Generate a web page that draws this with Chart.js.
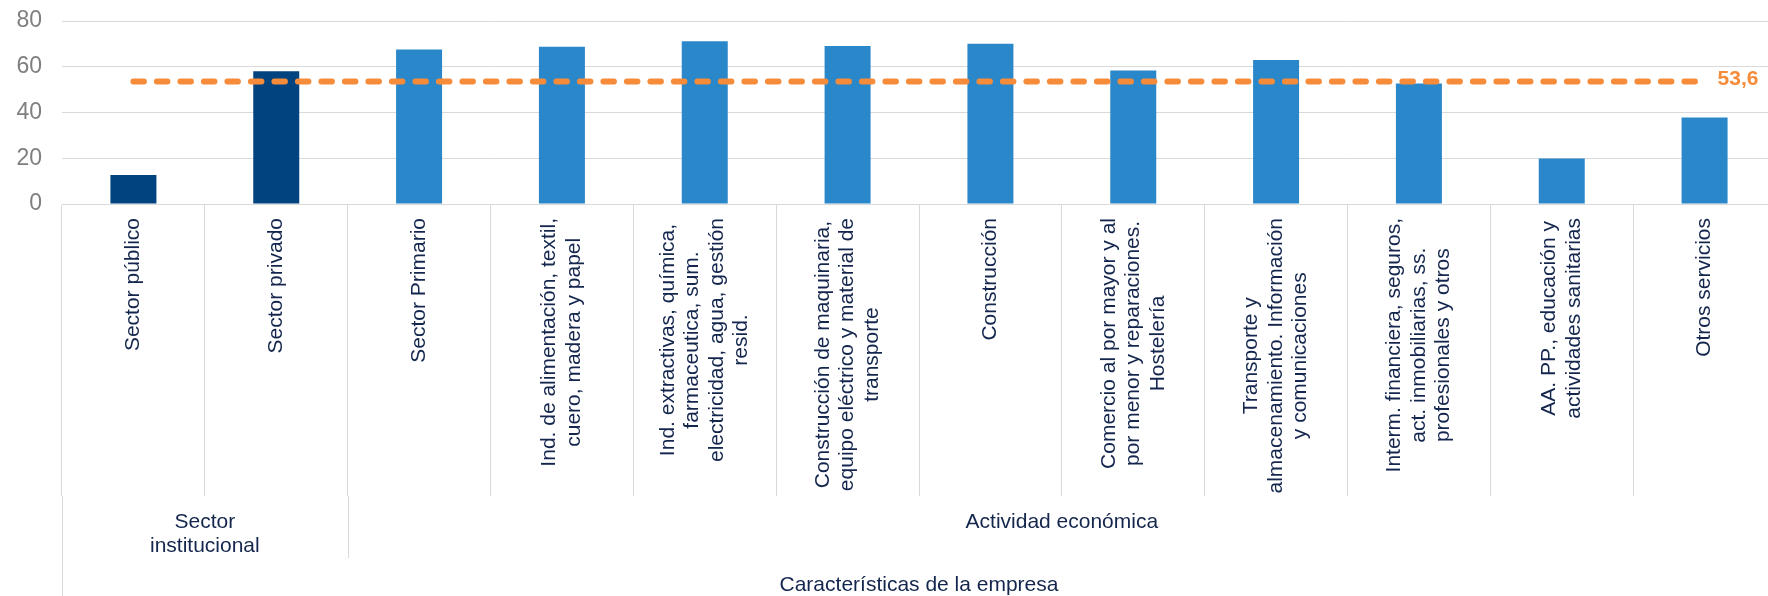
<!DOCTYPE html>
<html>
<head>
<meta charset="utf-8">
<title>Características de la empresa</title>
<script src="https://cdn.jsdelivr.net/npm/chart.js@4.4.1/dist/chart.umd.min.js"></script>
<style>
html, body { margin: 0; padding: 0; overflow: hidden; background: #fff; }
#wrap { width: 1776px; height: 596px; }
</style>
</head>
<body>
<div id="wrap"><canvas id="empresaChart" width="1776" height="596"></canvas></div>
<script>
// data
var categories = [
    ['Sector público'],
    ['Sector privado'],
    ['Sector Primario'],
    ['Ind. de alimentación, textil,', 'cuero, madera y papel'],
    ['Ind. extractivas, química,', 'farmaceutica, sum.', 'electricidad, agua, gestión', 'resid.'],
    ['Construcción de maquinaria,', 'equipo eléctrico y material de', 'transporte'],
    ['Construcción'],
    ['Comercio al por mayor y al', 'por menor y reparaciones.', 'Hostelería'],
    ['Transporte y', 'almacenamiento. Información', 'y comunicaciones'],
    ['Interm. financiera, seguros,', 'act. inmobiliarias, ss.', 'profesionales y otros'],
    ['AA. PP., educación y', 'actividades sanitarias'],
    ['Otros servicios']
];
var values = [12.7, 58.0, 67.5, 68.7, 71.1, 69.1, 70.1, 58.4, 62.9, 52.7, 19.9, 37.8];
var averageValue = 53.6;
var averageLabel = '53,6';
var groupLabels = [['Sector', 'institucional'], ['Actividad económica']];
var groupFirst = [0, 2];
var groupLast = [1, 11];
var topGroupLabel = 'Características de la empresa';
var yTickValues = [0, 20, 40, 60, 80];

var FONT = '"Liberation Sans", Arial, sans-serif';
var TEXT_COLOR = '#14264d';
var GRID_COLOR = '#d9d9d9';
var ORANGE = '#f68b3a';

var axisLabelsPlugin = {
    id: 'axisLabels',
    afterDraw: function(chart) {
        'use strict';
        var ctx = chart.ctx;
        var xScale = chart.scales.x;
        var area = chart.chartArea;
        var step = xScale.getPixelForValue(1) - xScale.getPixelForValue(0);
        var base = area.bottom;

        ctx.save();
        ctx.fillStyle = TEXT_COLOR;
        ctx.font = '21px ' + FONT;
        ctx.textBaseline = 'middle';
        ctx.textAlign = 'center';

        // rotated category labels, lines centred on each other
        categories.forEach(function(lines, i) {
            var x = xScale.getPixelForValue(i);
            var maxW = Math.max.apply(null, lines.map(function(l) { return ctx.measureText(l).width; }));
            ctx.save();
            ctx.translate(x, base + 14);
            ctx.rotate(-Math.PI / 2);
            lines.forEach(function(line, j) {
                ctx.fillText(line, -maxW / 2, (j - (lines.length - 1) / 2) * 24.5);
            });
            ctx.restore();
        });

        // longer separators for the group levels
        ctx.strokeStyle = GRID_COLOR;
        ctx.lineWidth = 1;
        var leftX = Math.round(xScale.getPixelForValue(0) - step / 2) + 0.5;
        ctx.beginPath();
        ctx.moveTo(leftX, base + 292);
        ctx.lineTo(leftX, chart.height);
        var midX = Math.round(xScale.getPixelForValue(groupLast[0]) + step / 2) + 0.5;
        ctx.moveTo(midX, base + 292);
        ctx.lineTo(midX, base + 354);
        ctx.stroke();

        // group labels
        groupLabels.forEach(function(lines, g) {
            var x0 = xScale.getPixelForValue(groupFirst[g]) - step / 2;
            var x1 = xScale.getPixelForValue(groupLast[g]) + step / 2;
            lines.forEach(function(line, j) {
                ctx.fillText(line, (x0 + x1) / 2, base + 318 + j * 24);
            });
        });
        var t0 = xScale.getPixelForValue(0) - step / 2;
        var t1 = xScale.getPixelForValue(categories.length - 1) + step / 2;
        ctx.fillText(topGroupLabel, (t0 + t1) / 2, base + 381);

        // value label of the average line
        var meta = chart.getDatasetMeta(1);
        var last = meta.data[meta.data.length - 1];
        ctx.fillStyle = ORANGE;
        ctx.font = 'bold 21px ' + FONT;
        ctx.textAlign = 'left';
        ctx.fillText(averageLabel, last.x + 13, last.y - 2);
        ctx.restore();
    }
};

var ctx = document.getElementById('empresaChart').getContext('2d');
new Chart(ctx, {
    type: 'bar',
    data: {
        labels: categories,
        datasets: [{
            type: 'bar',
            label: 'Empresas',
            data: values,
            backgroundColor: function(c) { return c.dataIndex < 2 ? '#00437f' : '#2a87c9'; },
            barPercentage: 0.322,
            categoryPercentage: 1,
            order: 1
        }, {
            type: 'line',
            label: 'Media',
            data: values.map(function() { return averageValue; }),
            borderColor: ORANGE,
            borderWidth: 6,
            borderDash: [10.5, 13],
            borderCapStyle: 'round',
            pointRadius: 0,
            fill: false,
            order: 0
        }]
    },
    options: {
        responsive: false,
        animation: false,
        layout: { padding: { top: 21, left: 0, right: 0, bottom: 0 } },
        plugins: {
            legend: { display: false },
            tooltip: { enabled: false }
        },
        scales: {
            x: {
                offset: true,
                ticks: { display: false },
                grid: {
                    offset: true,
                    drawOnChartArea: false,
                    drawTicks: true,
                    tickLength: 292,
                    color: GRID_COLOR
                },
                border: { display: true, color: GRID_COLOR },
                afterFit: function(scale) { scale.height = 392; }
            },
            y: {
                min: 0,
                max: 80,
                afterBuildTicks: function(scale) {
                    scale.ticks = yTickValues.map(function(v) { return { value: v }; });
                },
                ticks: {
                    color: '#7f7f7f',
                    padding: 20,
                    font: { family: FONT, size: 23 }
                },
                grid: { color: GRID_COLOR, drawTicks: false },
                border: { display: false },
                afterFit: function(scale) {
                    scale.width = 62;
                    scale.paddingTop = 0;
                    scale.paddingBottom = 0;
                }
            }
        }
    },
    plugins: [axisLabelsPlugin]
});
</script>
</body>
</html>
